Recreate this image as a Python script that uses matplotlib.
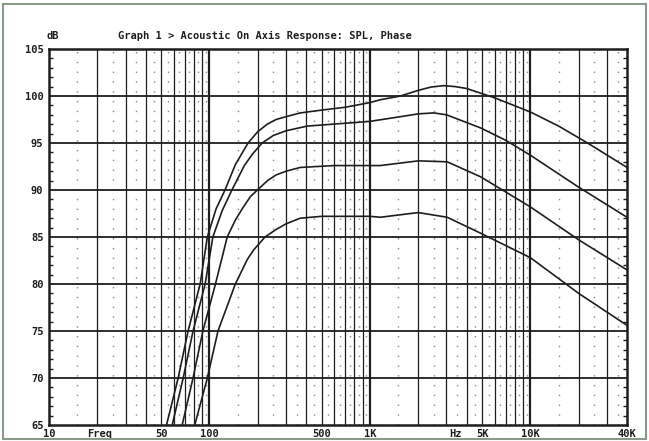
import matplotlib
matplotlib.use("Agg")
import matplotlib.pyplot as plt
from matplotlib.patches import Rectangle

# response curves (Hz, dB), top to bottom
freq_1 = [54, 63.8, 73.6, 87.5, 97, 110, 125, 145, 174, 200, 229, 260, 300, 368,
          500, 700, 1000, 1160, 1550, 2000, 2400, 2880, 3400, 4000, 6000, 10000,
          15000, 22700, 40000]
spl_1 = [65, 70, 75, 80, 85, 88, 90, 92.7, 95, 96.2, 97.0, 97.5, 97.8, 98.2,
         98.5, 98.8, 99.3, 99.6, 100.0, 100.6, 100.95, 101.1, 101.0, 100.8, 99.8, 98.3,
         96.8, 95.0, 92.4]

freq_2 = [58.6, 68.6, 79, 94, 105, 120, 138, 165, 185, 213, 250, 300, 407, 700,
          1000, 1550, 2000, 2500, 3000, 4900, 7000, 10000, 20000, 40000]
spl_2 = [65, 70, 75, 80, 85, 87.8, 90, 92.6, 93.8, 95, 95.8, 96.3, 96.8, 97.1,
         97.3, 97.8, 98.1, 98.2, 98.0, 96.6, 95.3, 93.7, 90.3, 87.1]

freq_3 = [67.6, 79, 91, 109, 129, 145, 160, 180, 199, 230, 260, 300, 368, 600,
          1000, 1160, 2000, 3030, 4900, 10000, 20000, 40000]
spl_3 = [65, 70, 75, 80, 85, 86.8, 88.0, 89.3, 90, 91.0, 91.6, 92.0, 92.4, 92.6,
         92.6, 92.6, 93.1, 93.0, 91.4, 88.2, 84.7, 81.5]

freq_4 = [81, 97, 113, 145, 160, 172, 188, 222, 260, 300, 368, 500, 1000, 1160,
          2000, 3030, 4900, 10000, 20000, 40000]
spl_4 = [65, 70, 75, 80, 81.5, 82.6, 83.6, 85, 85.8, 86.4, 87.0, 87.2, 87.2,
         87.1, 87.6, 87.1, 85.4, 82.8, 79.0, 75.6]

x_ticks = [10, 20.8, 50, 100, 500, 1000, 3400, 5000, 10000, 40000]
x_labels = ["10", "Freq", "50", "100", "500", "1K", "Hz", "5K", "10K", "40K"]
y_ticks = [65, 70, 75, 80, 85, 90, 95, 100, 105]

ink = "#1c1f1c"
font = dict(family="DejaVu Sans Mono", fontweight="bold", fontsize=7.5, color=ink)

fig = plt.figure(figsize=(6.49, 4.41), dpi=100)
fig.patches.append(Rectangle((0.005, 0.005), 0.99, 0.985, transform=fig.transFigure,
                             fill=False, edgecolor="#8a9a8a", lw=1.5))
ax = fig.add_axes([49 / 649, 16 / 441, 578 / 649, 376 / 441])
ax.set_xscale("log")
ax.set_xlim(10, 40000)
ax.set_ylim(65, 105)

# grid: solid lines at 2..9 per decade, heavier at decades, dotted in between
for dec in [10, 100, 1000, 10000]:
    for k in range(1, 10):
        f = dec * k
        if 10 < f < 40000:
            ax.axvline(f, color=ink, lw=1.6 if k == 1 else 0.9, zorder=1)
        fm = dec * (k + 0.5)
        if fm < 40000:
            ax.axvline(fm, color="#888", lw=1.0, ls=(0, (1, 6.05)), zorder=1)
for y in y_ticks[1:-1]:
    ax.axhline(y, color=ink, lw=1.3, zorder=1)

for f, s in [(freq_1, spl_1), (freq_2, spl_2), (freq_3, spl_3), (freq_4, spl_4)]:
    ax.plot(f, s, color=ink, lw=1.2, zorder=3)

for sp in ax.spines.values():
    sp.set_linewidth(1.8)
    sp.set_color(ink)

ax.set_xticks(x_ticks)
ax.set_xticklabels(x_labels, **font)
ax.xaxis.set_minor_locator(plt.NullLocator())
ax.set_yticks(y_ticks)
ax.set_yticklabels([str(v) for v in y_ticks], **font)
ax.set_yticks(range(65, 106), minor=True)
ax.tick_params(axis="x", length=0, pad=3)
ax.tick_params(axis="y", which="major", length=0, pad=4)
ax.tick_params(axis="y", which="minor", direction="in", length=3, width=1,
               right=True, color=ink)

ax.text(-0.005, 1.02, "dB", transform=ax.transAxes, ha="left", va="bottom", **font)
ax.text(0.12, 1.02, "Graph 1 > Acoustic On Axis Response: SPL, Phase",
        transform=ax.transAxes, ha="left", va="bottom", **font)

fig.savefig("out.png", dpi=100)
